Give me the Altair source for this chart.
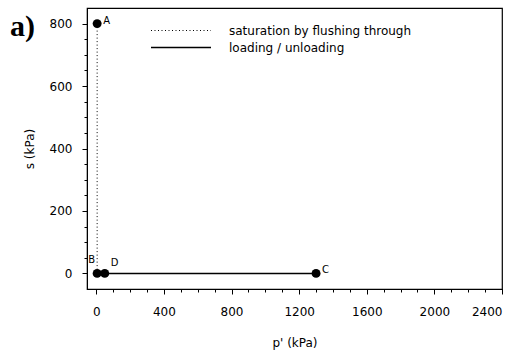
import altair as alt
import pandas as pd

# data
point_names = ["A", "B", "D", "C"]
point_p = [5, 5, 50, 1300]
point_s = [800, 0, 0, 0]
label_dx = [6, -2, 6, 6]
label_dy = [-3, -13, -10, -3]
label_align = ["left", "right", "left", "left"]

series_names = ["saturation by flushing through", "saturation by flushing through",
                "loading / unloading", "loading / unloading"]
series_p = [5, 5, 5, 1300]
series_s = [800, 0, 0, 0]
series_order = ["saturation by flushing through", "loading / unloading"]

x_major = list(range(0, 2401, 400))
x_minor = list(range(0, 2401, 100))
y_major = list(range(0, 801, 200))
y_minor = list(range(0, 801, 50))

FONT = "DejaVu Sans"

lines_df = pd.DataFrame({"p": series_p, "s": series_s, "series": series_names,
                         "ord": [0, 1, 0, 1]})
pts_df = pd.DataFrame({"p": point_p, "s": point_s, "name": point_names,
                       "dx": label_dx, "dy": label_dy, "align": label_align})

xscale = alt.Scale(domain=[-55, 2400], nice=False, zero=False)
yscale = alt.Scale(domain=[-50, 850], nice=False, zero=False)

common = dict(grid=False, labelFont=FONT, titleFont=FONT, titleFontWeight="normal",
              labelColor="black", titleColor="black", domainColor="black",
              tickColor="black", labelFontSize=12, titleFontSize=12)

xaxis = alt.Axis(title="p' (kPa)", values=x_major, format="d", tickSize=5,
                 orient="bottom", titlePadding=20, labelPadding=12, **common)
yaxis = alt.Axis(title="s (kPa)", values=y_major, format="d", tickSize=5,
                 orient="left", titlePadding=13, labelPadding=10, **common)
xaxis_minor = alt.Axis(title=None, values=x_minor, labels=False, tickSize=3,
                       orient="bottom", domain=False, grid=False, tickColor="black")
yaxis_minor = alt.Axis(title=None, values=y_minor, labels=False, tickSize=3,
                       orient="left", domain=False, grid=False, tickColor="black")

lines = alt.Chart(lines_df).mark_line(color="black", clip=True).encode(
    x=alt.X("p:Q", scale=xscale, axis=xaxis),
    y=alt.Y("s:Q", scale=yscale, axis=yaxis),
    detail="series:N",
    order="ord:Q",
    strokeDash=alt.StrokeDash(
        "series:N",
        scale=alt.Scale(domain=series_order, range=[[1, 2.5], [1, 0]]),
        legend=alt.Legend(title=None, orient="none", legendX=63, legendY=16,
                          symbolType="stroke", symbolSize=3600, clipHeight=13,
                          symbolStrokeColor="black", symbolStrokeWidth=1.3,
                          labelFont=FONT, labelFontSize=12, labelLimit=400,
                          labelColor="black", labelOffset=17, rowPadding=4),
    ),
    strokeWidth=alt.StrokeWidth(
        "series:N",
        scale=alt.Scale(domain=series_order, range=[1, 1.5]),
        legend=None,
    ),
)

points = alt.Chart(pts_df).mark_circle(color="black", opacity=1, size=80).encode(
    x=alt.X("p:Q", scale=xscale, axis=xaxis_minor),
    y=alt.Y("s:Q", scale=yscale, axis=yaxis_minor),
)

labels = [
    alt.Chart(pts_df[pts_df.name == n]).mark_text(
        font=FONT, fontSize=10, color="black",
        dx=int(pts_df.loc[pts_df.name == n, "dx"].iloc[0]),
        dy=int(pts_df.loc[pts_df.name == n, "dy"].iloc[0]),
        align=pts_df.loc[pts_df.name == n, "align"].iloc[0],
    ).encode(
        x=alt.X("p:Q", scale=xscale, axis=None),
        y=alt.Y("s:Q", scale=yscale, axis=None),
        text="name:N",
    )
    for n in point_names
]

panel = alt.Chart(pd.DataFrame({"t": ["a)"]})).mark_text(
    font="Liberation Serif", fontSize=30, fontWeight="bold", color="black",
    align="left", baseline="alphabetic",
).encode(x=alt.value(-77), y=alt.value(28), text="t:N")

chart = alt.layer(lines, points, *labels, panel).resolve_axis(
    x="independent", y="independent"
).properties(
    width=415, height=281,
    autosize=alt.AutoSizeParams(type="none"),
    padding={"left": 87, "top": 8, "right": 20, "bottom": 74},
    background="white",
).configure_view(stroke="black", strokeWidth=1.2)

chart.save("out.html", embed_options={"renderer": "svg", "actions": False})
